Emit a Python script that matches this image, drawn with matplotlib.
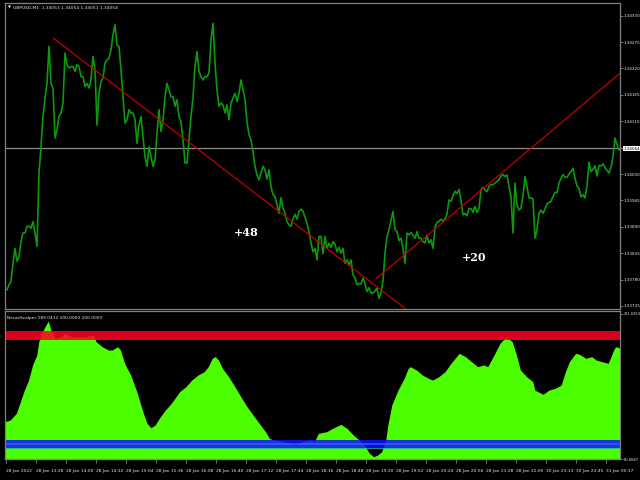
"""GBPUSD M1 with NeuroScalper oscillator, MT4 style screenshot"""
import numpy as np
import matplotlib
matplotlib.use('Agg')
import matplotlib.pyplot as plt
from matplotlib import font_manager

# GBPUSD M1 close, one sample every 2 bars, in points above 1.30000
close_pts = [
    3759, 3769, 3776, 3814, 3845, 3818, 3828, 3859, 3877, 3877, 3891, 3891, 3887, 3901, 3877, 3849,
    4002, 4057, 4120, 4158, 4189, 4266, 4189, 4179, 4075, 4092, 4120, 4127, 4148, 4252, 4228, 4221,
    4224, 4224, 4214, 4228, 4224, 4203, 4203, 4182, 4189, 4179, 4196, 4245, 4217, 4102, 4168, 4193,
    4200, 4231, 4238, 4241, 4259, 4290, 4311, 4269, 4266, 4217, 4161, 4106, 4113, 4134, 4127, 4127,
    4113, 4064, 4102, 4120, 4078, 4036, 4016, 4057, 4036, 4016, 4029, 4085, 4134, 4089, 4113, 4161,
    4189, 4175, 4161, 4161, 4141, 4155, 4120, 4109, 4071, 4023, 4023, 4071, 4120, 4158, 4224, 4255,
    4214, 4203, 4196, 4203, 4203, 4210,
    4280, 4314, 4231, 4175, 4141, 4148, 4144, 4127, 4144, 4113, 4148, 4158, 4168, 4151, 4168, 4196,
    4177, 4155, 4109, 4082, 4071, 4047, 4016, 3998, 3988, 4002, 4016, 4009, 3989, 4009, 3974, 3957,
    3953, 3936, 3918, 3951, 3929, 3918, 3901, 3894, 3891, 3906, 3916, 3906, 3922, 3927, 3922, 3910,
    3897, 3880, 3856, 3838, 3845, 3821, 3870, 3870, 3834, 3870, 3845, 3856, 3847, 3859, 3854, 3838,
    3847, 3835, 3845, 3814, 3821, 3811, 3821, 3790, 3783, 3769, 3772, 3771, 3783, 3771, 3755, 3763,
    3752, 3752, 3756, 3762, 3741, 3752, 3777, 3835, 3870, 3884, 3904, 3922, 3884, 3880, 3861, 3866,
    3845, 3814, 3877, 3873, 3878, 3873, 3866, 3880, 3866,
    3866, 3859, 3856, 3873, 3856, 3863, 3845, 3889, 3899, 3901, 3906, 3901, 3906, 3917, 3946, 3943,
    3955, 3964, 3959, 3968, 3946, 3915, 3918, 3913, 3928, 3928, 3920, 3932, 3920, 3928, 3967, 3972,
    3967, 3963, 3974, 3978, 3978, 3981, 3985, 3988, 3996, 3999, 3995, 3998, 3974, 3953, 3877, 3981,
    3936, 3925, 3929, 3955, 3995, 3974, 3950, 3950, 3948, 3866, 3884, 3918, 3925, 3918, 3927, 3938,
    3941, 3943, 3953, 3962, 3961, 3981, 3991, 3999, 3993, 3993, 4000, 4005, 4012, 3991, 3975, 3970,
    3952, 3957, 3950, 3975, 4025, 4005, 4010, 4017, 3996, 4018, 4017, 4021, 4013, 4008, 4002, 4014,
    4036, 4075, 4061, 4050,
]

# NeuroScalper oscillator, sample index and value
osc_idx = [-1, 1.6, 4.7, 6.7, 8.7, 10.8, 12.8, 14.9, 15.9, 16.9, 19.0, 20.6, 22.0, 24.1, 27.1, 29.2,
           32.2, 35.3, 39.4, 43.4, 44.5, 47.5, 50.6, 52.6, 55.3, 56.7, 58.8, 61.8, 64.9, 67.9, 70.0,
           72.0, 74.1, 76.1, 79.2, 82.2, 86.3, 89.4, 92.4, 95.5, 98.6, 100.6, 102.6, 104.1, 105.7,
           107.7, 110.8, 113.9, 116.9, 120.0, 123.0, 126.1, 129.2, 131.2, 133.2, 137.3, 141.4, 144.5,
           147.5, 151.6, 153.7, 155.7, 159.8, 162.8, 166.9, 170.0, 173.1, 176.1, 179.2, 181.2, 183.3,
           185.3, 187.3, 189.4, 190.4, 192.4, 195.5, 198.6, 200.6, 201.6, 204.7, 207.7, 210.8, 212.8,
           215.9, 219.0, 222.0, 226.1, 229.2, 233.3, 235.3, 238.4, 240.4, 243.5, 246.5, 249.6, 252.6,
           254.7, 256.7, 259.8, 262.9, 263.9, 268.0, 271.0, 274.1, 277.1, 279.2, 281.2, 284.3, 286.3,
           289.4, 292.4, 294.5, 297.5, 300.6, 303.7, 304.7, 306.5]
osc_val = [116.6, 118.2, 124.6, 135.8, 146.9, 156.5, 170.9, 180.5, 193.3, 199.6, 207.6, 213.1, 204.4,
           196.5, 198.0, 201.2, 198.0, 198.0, 198.0, 199.6, 193.3, 188.5, 185.3, 185.3, 188.5, 185.3,
           172.5, 161.3, 145.3, 126.2, 115.0, 110.8, 113.4, 119.8, 127.8, 134.2, 145.3, 150.1, 156.5,
           161.3, 164.5, 169.3, 177.3, 178.9, 175.7, 167.7, 159.7, 150.1, 140.5, 131.0, 123.0, 115.0,
           107.0, 100.6, 99.0, 98.1, 95.8, 94.2, 97.4, 99.0, 97.4, 105.4, 107.0, 110.2, 114.0, 110.2,
           103.8, 99.0, 92.6, 86.2, 83.0, 84.6, 87.8, 99.0, 113.4, 132.6, 146.9, 158.1, 167.7, 169.3,
           166.1, 161.3, 158.1, 156.5, 159.7, 164.5, 172.5, 182.1, 178.9, 172.5, 169.3, 170.9, 169.3,
           180.5, 191.7, 198.0, 193.3, 180.5, 166.1, 159.7, 154.9, 146.9, 142.8, 146.9, 148.5, 151.7,
           164.5, 174.1, 182.1, 181.1, 177.3, 178.9, 175.7, 174.1, 172.5, 186.9, 188.5, 186.9]

price_ticks = [1.33725, 1.33780, 1.33835, 1.33890, 1.33945, 1.34000, 1.34054,
               1.34110, 1.34165, 1.34220, 1.34275, 1.34330]
last_price = 1.34054
osc_min, osc_max = 80.8087, 221.6953

time_labels = ['28 Jan 2022', '28 Jan 13:28', '28 Jan 14:00', '28 Jan 14:32', '28 Jan 15:04',
               '28 Jan 15:36', '28 Jan 16:08', '28 Jan 16:40', '28 Jan 17:12', '28 Jan 17:44',
               '28 Jan 18:16', '28 Jan 18:48', '28 Jan 19:20', '28 Jan 19:52', '28 Jan 20:24',
               '28 Jan 20:56', '28 Jan 21:28', '28 Jan 22:00', '30 Jan 23:13', '30 Jan 23:45',
               '31 Jan 00:17']

# trend lines: (index, price) anchors
trend1_idx, trend1_px = [23.2, 199.0], [1.34283, 1.33720]
trend2_idx, trend2_px = [184.8, 306.5], [1.33783, 1.34210]

# narrow font for the tiny terminal labels if we have one
names = set(f.name for f in font_manager.fontManager.ttflist)
if 'Liberation Sans Narrow' in names:
    NARROW, FS = 'Liberation Sans Narrow', 4.3
else:
    NARROW, FS = 'DejaVu Sans', 3.2

GRID = '#808080'
TXT = '#E6E6E6'

fig = plt.figure(figsize=(6.4, 4.8), dpi=100, facecolor='black')
ax = fig.add_axes([5/640, 1-309/480, 615/640, 306/480], facecolor='black')
ax2 = fig.add_axes([5/640, 1-459/480, 615/640, 148/480], facecolor='black')

close = 1.3 + np.array(close_pts) * 1e-5
x = np.arange(len(close))

ax.axhline(last_price, color='#8C8C8C', lw=0.9, zorder=1)
ax.plot(x, close, color='#0B9A0B', lw=1.2, zorder=2)
ax.plot(trend1_idx, trend1_px, color='#C00000', lw=0.9, zorder=3)
ax.plot(trend2_idx, trend2_px, color='#C00000', lw=0.9, zorder=3)

ax.text(119.5, 1.33879, '+48', color='white', fontsize=8, fontweight='bold',
        family='DejaVu Serif', ha='center', va='center')
ax.text(233.5, 1.33825, '+20', color='white', fontsize=8, fontweight='bold',
        family='DejaVu Serif', ha='center', va='center')

ax.set_xlim(-1, 306.5)
ax.set_ylim(1.337187, 1.343564)
ax.set_xticks([])
ax.yaxis.tick_right()
ax.set_yticks(price_ticks)
ax.set_yticklabels(['%.5f' % p for p in price_ticks], family=NARROW)
ax.tick_params(axis='y', colors=GRID, labelcolor=TXT, labelsize=FS - 0.2, length=2, width=0.6, pad=0.5)
for lab, p in zip(ax.get_yticklabels(), price_ticks):
    if p == last_price:
        lab.set_color('black')
        lab.set_bbox(dict(facecolor='white', edgecolor='none', pad=0.5))

ax.text(0.005, 0.984, '\u25bc', transform=ax.transAxes, color=TXT, fontsize=2.8, va='center')
ax.text(0.013, 0.984, 'GBPUSD,M1  1.34053 1.34054 1.34051 1.34054', transform=ax.transAxes,
        color=TXT, fontsize=FS, family=NARROW, va='center')

# oscillator panel
ax2.fill_between(osc_idx, osc_val, osc_min - 5, color='#4CFF00', lw=0, zorder=1)
ax2.axhspan(195.2, 203.5, color='#FF0020', alpha=0.86, lw=0, zorder=2)
ax2.axhspan(91.0, 99.3, color='#1010FF', alpha=0.85, lw=0, zorder=2)
ax2.axhspan(93.8, 96.4, color='#3A6CFF', alpha=0.6, lw=0, zorder=3)
ax2.axhspan(90.2, 91.3, color='#20B0A0', alpha=0.8, lw=0, zorder=3)

ax2.set_xlim(-1, 306.5)
ax2.set_ylim(osc_min, osc_max + 0.96)
ax2.yaxis.tick_right()
ax2.set_yticks([osc_min, osc_max - 1.5])
ax2.set_yticklabels(['80.8087', '221.6953'], family=NARROW)
ax2.tick_params(axis='y', colors=GRID, labelcolor=TXT, labelsize=FS - 0.6, length=2, width=0.6, pad=0.4)
ax2.set_xticks(np.arange(len(time_labels)) * 15 - 0.75)
ax2.set_xticklabels(time_labels, ha='left', family=NARROW)
ax2.tick_params(axis='x', colors=GRID, labelcolor=TXT, labelsize=FS, length=3, width=0.6, pad=4)

ax2.text(0.003, 0.953, 'NeuroScalper 189.0412 100.0000 200.0000', transform=ax2.transAxes,
         color=TXT, fontsize=FS, family=NARROW, va='center')

for a in (ax, ax2):
    for s in a.spines.values():
        s.set_color(GRID)
        s.set_linewidth(0.9)

plt.savefig('out.png', dpi=100, facecolor='black')
